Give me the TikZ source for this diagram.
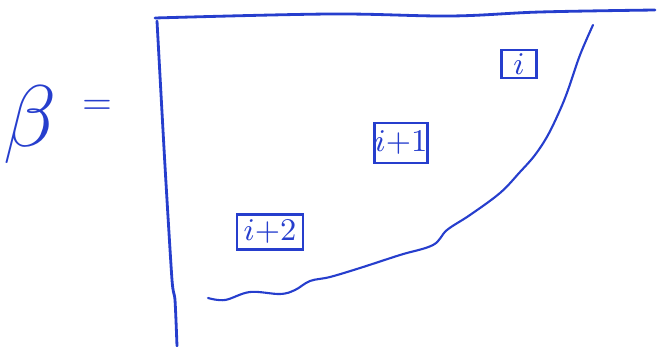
\documentclass[tikz,border=0pt]{standalone}
\usepackage{tikz}

\definecolor{inkblue}{RGB}{38,62,205}

\tikzset{
  inkline/.style={inkblue, thick, line cap=round, line join=round},
  slotbox/.style={draw=inkblue, thick, text=inkblue, inner sep=0pt,
    font=\fontsize{9}{9}\selectfont}
}

\begin{document}
\begin{tikzpicture}[x=1cm,y=1cm]
  \useasboundingbox (0,0) rectangle (6.69,3.46);

  % Left hand side
  \node[text=inkblue, font=\fontsize{24}{24}\selectfont] (beta) at (0.30,2.21) {$\beta$};
  \node[text=inkblue, font=\fontsize{11}{11}\selectfont] (eq) at (0.97,2.39) {$=$};

  % Top edge of the matrix
  \draw[inkline] plot[smooth, tension=0.6] coordinates
    {(1.55,3.28) (3.30,3.32) (4.50,3.30) (5.40,3.34) (6.55,3.36)};

  % Left edge of the matrix
  \draw[inkline] plot[smooth, tension=0.4] coordinates
    {(1.57,3.25) (1.65,1.80) (1.72,0.66) (1.75,0.46) (1.77,0.00)};

  % Curved lower boundary of the filled part
  \draw[inkline, semithick] plot[smooth, tension=0.6] coordinates
    {(5.93,3.21) (5.80,2.91) (5.68,2.56) (5.60,2.36) (5.48,2.11)
     (5.35,1.91) (5.20,1.74) (5.00,1.53) (4.70,1.31) (4.47,1.16)
     (4.33,1.01) (4.00,0.91) (3.60,0.78) (3.30,0.69) (3.10,0.65)
     (2.95,0.56) (2.80,0.52) (2.50,0.54) (2.25,0.46) (2.08,0.48)};

  % Block labels
  \node[slotbox, minimum width=0.35cm, minimum height=0.28cm] (blki) at (5.19,2.82) {$i$};
  \node[slotbox, minimum width=0.52cm, minimum height=0.40cm] (blkiplus) at (4.01,2.03) {$i{+}1$};
  \node[slotbox, minimum width=0.66cm, minimum height=0.35cm] (blkiplustwo) at (2.70,1.14) {$i{+}2$};
\end{tikzpicture}
\end{document}
